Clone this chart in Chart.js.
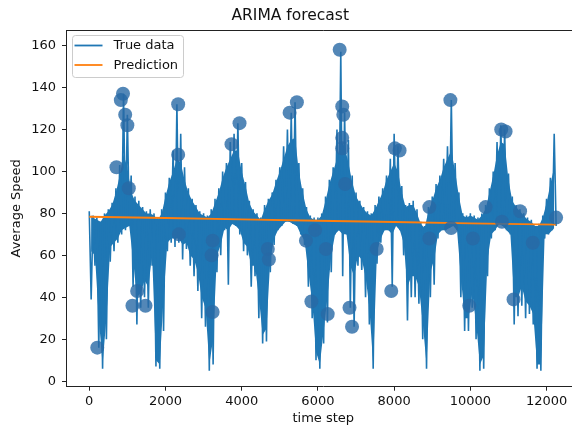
<!DOCTYPE html>
<html>
<head>
<meta charset="utf-8">
<script src="https://cdn.jsdelivr.net/npm/chart.js@4.4.0/dist/chart.umd.min.js"></script>
<style>
html, body { margin: 0; padding: 0; overflow: hidden; background: #fff; }
#wrap { width: 590px; height: 428px; position: relative; }
</style>
</head>
<body>
<div id="wrap"><canvas id="chart1"></canvas></div>
<script>
// true data per 100 time steps:
// high / low = tips of the needles, coreHigh / coreLow = edges of the solid body
const BUCKET = 100;
const trueHigh = [81, 79, 78, 76, 80, 82, 85, 92, 103, 137, 127, 98, 88, 86, 83, 81, 82, 80, 78, 82,
    90, 97, 110, 132, 118, 102, 92, 87, 84, 81, 80, 79, 82, 87, 92, 100, 104, 114, 118, 123,
    104, 95, 86, 82, 80, 78, 84, 87, 90, 96, 102, 112, 120, 128, 133, 104, 92, 83, 79, 78,
    78, 80, 88, 96, 102, 120, 157, 128, 115, 98, 90, 86, 83, 81, 80, 84, 88, 92, 98, 106,
    118, 112, 93, 84, 85, 86, 82, 76, 74, 83, 88, 94, 98, 106, 112, 134, 104, 90, 80, 79,
    80, 79, 78, 80, 84, 92, 100, 114, 122, 120, 99, 88, 84, 82, 80, 78, 77, 74, 75, 79, 87, 97, 118];
const trueLow = [39, 55, 16, 6, 20, 57, 62, 66, 70, 72, 74, 45, 27, 35, 40, 35, 55, 7, 6, 24,
    62, 66, 64, 66, 58, 63, 55, 50, 43, 30, 26, 5, 8, 52, 60, 72, 46, 75, 74, 70,
    62, 60, 45, 50, 30, 18, 19, 52, 65, 72, 74, 76, 76, 75, 74, 70, 65, 45, 30, 10,
    6, 18, 28, 52, 70, 72, 50, 70, 35, 26, 55, 53, 40, 27, 6, 56, 66, 72, 72, 45,
    74, 72, 60, 29, 40, 40, 37, 20, 6, 40, 46, 68, 72, 72, 73, 74, 72, 40, 24, 24,
    35, 20, 5, 6, 50, 68, 72, 75, 74, 72, 70, 27, 31, 36, 30, 32, 27, 6, 5, 68, 70, 72, 74];
const trueCoreHigh = [80, 78, 77, 76, 79, 81, 84, 90, 98, 108, 102, 90, 86, 84, 82, 80, 80, 79, 77, 80,
    88, 95, 100, 106, 104, 96, 90, 86, 83, 80, 79, 78, 80, 85, 90, 97, 102, 106, 110, 110,
    100, 93, 85, 81, 79, 77, 82, 86, 89, 95, 100, 106, 112, 115, 116, 100, 90, 82, 78, 77,
    77, 79, 86, 94, 100, 106, 114, 112, 104, 95, 88, 85, 82, 80, 79, 82, 86, 90, 96, 100,
    104, 100, 90, 83, 84, 84, 80, 75, 73, 81, 86, 92, 96, 102, 106, 110, 100, 88, 79, 78,
    79, 78, 77, 79, 82, 90, 98, 108, 114, 113, 96, 86, 83, 81, 79, 77, 76, 74, 74, 78, 85, 94, 102];
const trueCoreLow = [62, 60, 30, 8, 30, 64, 66, 68, 72, 73, 74, 58, 40, 42, 48, 45, 60, 10, 8, 40,
    66, 68, 68, 68, 65, 66, 60, 58, 52, 40, 35, 8, 20, 60, 65, 73, 72, 75, 74, 72,
    66, 64, 55, 55, 40, 22, 25, 58, 68, 72, 74, 76, 76, 75, 74, 70, 67, 52, 38, 14,
    8, 24, 40, 60, 70, 72, 70, 70, 55, 50, 60, 58, 50, 35, 8, 62, 68, 72, 72, 70,
    74, 72, 66, 45, 50, 50, 45, 28, 8, 52, 58, 70, 72, 72, 73, 74, 72, 50, 30, 30,
    42, 28, 8, 12, 58, 70, 72, 75, 74, 72, 70, 40, 40, 45, 38, 36, 32, 8, 8, 70, 70, 72, 74];

const predSteps = [0, 2000, 4000, 6000, 8000, 10000, 12250];
const predValues = [78.4, 77.8, 77.1, 76.5, 75.9, 75.2, 74.6];

const anomalySteps = [210, 714, 829, 886, 943, 1000, 1038, 1133, 1257, 1476,
    2333, 2333, 2352, 3210, 3238, 3238, 3733, 3943, 4686, 4714,
    5257, 5448, 5686, 5829, 5924, 6210, 6257, 6571, 6638, 6667,
    6638, 6638, 6714, 6829, 6895, 7543, 7924, 8019, 8143, 8924,
    8924, 9476, 9495, 9971, 10067, 10400, 10810, 10829, 10924, 11133,
    11305, 11638, 12250];
const anomalyValues = [16, 102, 134, 137, 127, 122, 92, 36, 43, 36,
    132, 108, 70, 60, 33, 67, 113, 123, 63, 58,
    128, 133, 67, 38, 72, 63, 32, 158, 131, 127,
    116, 111, 94, 35, 26, 63, 43, 111, 110, 83,
    68, 134, 73, 36, 68, 83, 120, 76, 119, 39,
    81, 66, 78];

const xTicks = [0, 2000, 4000, 6000, 8000, 10000, 12000];
const yTicks = [0, 20, 40, 60, 80, 100, 120, 140, 160];

const BLUE = '#1f77b4';
const ORANGE = '#ff7f0e';

const truePoints = [];
trueHigh.forEach((hi, i) => {
    truePoints.push({ x: i * BUCKET, y: hi });
    truePoints.push({ x: i * BUCKET + BUCKET / 2, y: trueLow[i] });
});
const coreHighPoints = trueCoreHigh.map((v, i) => ({ x: i * BUCKET, y: v }));
const coreLowPoints = trueCoreLow.map((v, i) => ({ x: i * BUCKET + BUCKET / 2, y: v }));
const predPoints = predSteps.map((s, i) => ({ x: s, y: predValues[i] }));
const anomalyPoints = anomalySteps.map((s, i) => ({ x: s, y: anomalyValues[i] }));

const FONT = 'DejaVu Sans';
const TEXT = '#111';
const SPINE = '#222';

// top + right spine (matplotlib box)
const framePlugin = {
    id: 'frame',
    afterDraw(chart) {
        const { ctx, chartArea: a } = chart;
        ctx.save();
        ctx.strokeStyle = SPINE;
        ctx.lineWidth = 1;
        ctx.beginPath();
        ctx.moveTo(a.left, a.top + 0.5);
        ctx.lineTo(a.right, a.top + 0.5);
        ctx.lineTo(a.right, a.bottom);
        ctx.stroke();
        ctx.restore();
    }
};

// matplotlib style legend, upper left
const legendPlugin = {
    id: 'mplLegend',
    afterDraw(chart) {
        const ctx = chart.ctx;
        const items = ['True data', 'Prediction'].map(l => chart.data.datasets.find(d => d.label === l));
        ctx.save();
        ctx.fillStyle = 'rgba(255,255,255,0.8)';
        ctx.strokeStyle = '#cccccc';
        ctx.lineWidth = 1;
        ctx.beginPath();
        ctx.roundRect(72.5, 35.5, 111, 42, 3);
        ctx.fill();
        ctx.stroke();
        ctx.font = '13px "' + FONT + '"';
        ctx.textBaseline = 'middle';
        items.forEach((d, i) => {
            const y = 45.5 + i * 19.5;
            ctx.strokeStyle = d.borderColor;
            ctx.lineWidth = 1.8;
            ctx.beginPath();
            ctx.moveTo(74.5, y);
            ctx.lineTo(102.5, y);
            ctx.stroke();
            ctx.fillStyle = TEXT;
            ctx.fillText(d.label, 113.5, y + 0.5);
        });
        ctx.restore();
    }
};

const ctx1 = document.getElementById('chart1').getContext('2d');
new Chart(ctx1, {
    type: 'line',
    data: {
        datasets: [
            {
                type: 'scatter',
                label: 'anomaly',
                data: anomalyPoints,
                pointRadius: 7,
                pointBackgroundColor: 'rgba(40,105,165,0.8)',
                pointBorderWidth: 0,
                order: 0
            },
            {
                label: 'Prediction',
                data: predPoints,
                borderColor: ORANGE,
                borderWidth: 1.8,
                pointRadius: 0,
                tension: 0,
                order: 1
            },
            {
                label: 'True data',
                data: truePoints,
                borderColor: BLUE,
                borderWidth: 1.6,
                pointRadius: 0,
                tension: 0,
                order: 2
            },
            {
                // solid body of the true data, filled between the core edges
                label: 'core high',
                data: coreHighPoints,
                borderWidth: 0,
                pointRadius: 0,
                tension: 0,
                backgroundColor: BLUE,
                fill: '+1',
                order: 3
            },
            {
                label: 'core low',
                data: coreLowPoints,
                borderWidth: 0,
                pointRadius: 0,
                tension: 0,
                fill: false,
                order: 4
            }
        ]
    },
    options: {
        responsive: true,
        maintainAspectRatio: false,
        animation: false,
        layout: { padding: { left: 0, right: 9.5, top: 0, bottom: 0 } },
        scales: {
            x: {
                type: 'linear',
                min: -610,
                max: 12890,
                afterBuildTicks: s => { s.ticks = xTicks.map(v => ({ value: v })); },
                afterFit: s => { s.height = 41.3; },
                grid: { drawOnChartArea: false, tickLength: 4, color: SPINE },
                border: { color: SPINE, width: 1 },
                ticks: {
                    font: { family: FONT, size: 13 },
                    color: TEXT,
                    padding: 3,
                    maxRotation: 0,
                    callback: v => String(v)
                },
                title: {
                    display: true,
                    text: 'time step',
                    font: { family: FONT, size: 13 },
                    color: TEXT,
                    padding: { top: 0, bottom: 2 }
                }
            },
            y: {
                min: -2.6,
                max: 167.4,
                afterBuildTicks: s => { s.ticks = yTicks.map(v => ({ value: v })); },
                afterFit: s => { s.width = 66; },
                grid: { drawOnChartArea: false, tickLength: 4, color: SPINE },
                border: { color: SPINE, width: 1 },
                ticks: { font: { family: FONT, size: 13 }, color: TEXT, padding: 6, callback: v => String(v) },
                title: {
                    display: true,
                    text: 'Average Speed',
                    font: { family: FONT, size: 13 },
                    color: TEXT,
                    padding: { top: 9, bottom: 0 }
                }
            }
        },
        plugins: {
            legend: { display: false },
            tooltip: { enabled: false },
            filler: { propagate: false },
            title: {
                display: true,
                text: 'ARIMA forecast',
                font: { family: FONT, size: 15.5, weight: 'normal' },
                color: TEXT,
                padding: { top: 7, bottom: 4.4 }
            }
        }
    },
    plugins: [framePlugin, legendPlugin]
});
</script>
</body>
</html>
